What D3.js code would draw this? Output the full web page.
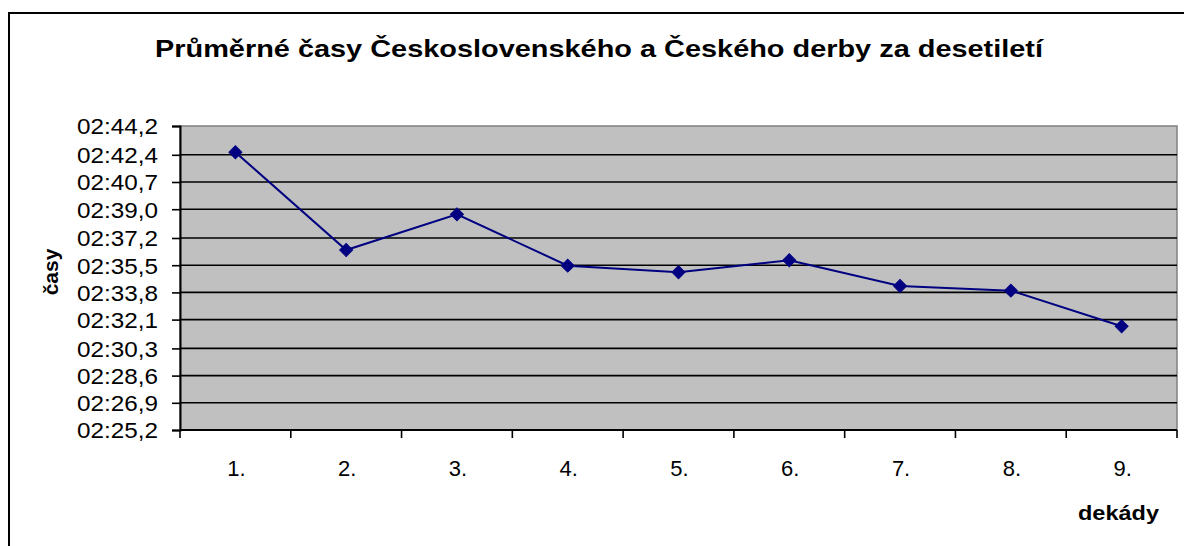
<!DOCTYPE html>
<html>
<head>
<meta charset="utf-8">
<script src="https://cdn.jsdelivr.net/npm/d3@7"></script>
<style>
    body { margin: 0; background: #fff; }
    #chart-area { width: 1184px; height: 546px; overflow: hidden; }
    text { font-family: "Liberation Sans", Arial, sans-serif; fill: #000; }
</style>
</head>
<body>
<div id="chart-area"></div>
<script>

// Data: decades and average times (seconds)
let decades = ["1.", "2.", "3.", "4.", "5.", "6.", "7.", "8.", "9."];
let avgTimes = [162.56, 156.45, 158.68, 155.47, 155.06, 155.81, 154.20, 153.91, 151.68];
let tickLabels = ["02:25,2", "02:26,9", "02:28,6", "02:30,3", "02:32,1", "02:33,8",
    "02:35,5", "02:37,2", "02:39,0", "02:40,7", "02:42,4", "02:44,2"];

let chartTitle = "Průměrné časy Československého a Českého derby za desetiletí";
let yTitle = "časy";
let xTitle = "dekády";

// "02:42,4" -> 162.4
function parseTime(s) {
    let parts = s.split(":");
    return +parts[0] * 60 + parseFloat(parts[1].replace(",", "."));
}

class LineChart {

    constructor(_parentElement) {
        this.parentElement = _parentElement;
        this.displayData = decades.map((d, i) => ({ decade: d, value: avgTimes[i] }));
        this.initVis();
    }

    initVis() {
        let vis = this;

        vis.width = 1184;
        vis.height = 546;
        vis.plot = { left: 180, right: 1177, top: 126, bottom: 430 };

        vis.svg = d3.select("#" + vis.parentElement).append("svg")
            .attr("width", vis.width)
            .attr("height", vis.height);

        // outer chart frame
        vis.svg.append("rect")
            .attr("x", 9).attr("y", 13)
            .attr("width", 1200).attr("height", 600)
            .attr("fill", "#fff")
            .attr("stroke", "#000")
            .attr("stroke-width", 2);

        vis.tickValues = tickLabels.map(parseTime);

        vis.x = d3.scalePoint()
            .domain(decades)
            .range([vis.plot.left, vis.plot.right])
            .padding(0.5);

        vis.y = d3.scaleLinear()
            .domain([d3.min(vis.tickValues), d3.max(vis.tickValues)])
            .range([vis.plot.bottom, vis.plot.top]);

        vis.updateVis();
    }

    updateVis() {
        let vis = this;
        let p = vis.plot;

        // plot background
        vis.svg.append("rect")
            .attr("x", p.left).attr("y", p.top)
            .attr("width", p.right - p.left).attr("height", p.bottom - p.top)
            .attr("fill", "#c0c0c0")
            .attr("stroke", "#808080")
            .attr("stroke-width", 1.5);

        // horizontal gridlines
        vis.svg.append("g")
            .selectAll("line")
            .data(vis.tickValues.slice(1, -1))
            .enter()
            .append("line")
            .attr("x1", p.left).attr("x2", p.right)
            .attr("y1", d => vis.y(d)).attr("y2", d => vis.y(d))
            .attr("stroke", "#000")
            .attr("stroke-width", 1.6);

        // y axis
        let yAxis = d3.axisLeft(vis.y)
            .tickValues(vis.tickValues)
            .tickFormat((d, i) => tickLabels[i])
            .tickSize(8)
            .tickPadding(14);

        let yg = vis.svg.append("g")
            .attr("transform", "translate(" + p.left + ",0)")
            .call(yAxis);
        yg.select(".domain").attr("stroke", "#000").attr("stroke-width", 2);
        yg.selectAll(".tick line").attr("stroke", "#000").attr("stroke-width", 1.6);
        yg.selectAll(".tick text")
            .attr("font-size", 22)
            .attr("font-family", "Liberation Sans, Arial, sans-serif")
            .attr("textLength", 81)
            .attr("lengthAdjust", "spacingAndGlyphs")
            .attr("dy", "0.36em");

        // x axis: ticks sit on the category boundaries
        let step = vis.x.step();
        let boundaries = d3.range(decades.length + 1).map(i => p.left + i * step);

        let xg = vis.svg.append("g");
        xg.append("line")
            .attr("x1", p.left).attr("x2", p.right)
            .attr("y1", p.bottom).attr("y2", p.bottom)
            .attr("stroke", "#000").attr("stroke-width", 2);
        xg.selectAll(".xtick")
            .data(boundaries)
            .enter()
            .append("line")
            .attr("class", "xtick")
            .attr("x1", d => d).attr("x2", d => d)
            .attr("y1", p.bottom).attr("y2", p.bottom + 8)
            .attr("stroke", "#000").attr("stroke-width", 1.6);
        xg.selectAll(".xlabel")
            .data(decades)
            .enter()
            .append("text")
            .attr("class", "xlabel")
            .attr("x", d => vis.x(d) + 1)
            .attr("y", 476)
            .attr("text-anchor", "middle")
            .attr("font-size", 22)
            .text(d => d);

        // line
        let line = d3.line()
            .x(d => vis.x(d.decade))
            .y(d => vis.y(d.value));

        vis.svg.append("path")
            .datum(vis.displayData)
            .attr("d", line)
            .attr("fill", "none")
            .attr("stroke", "#000080")
            .attr("stroke-width", 2);

        // diamond markers
        vis.svg.append("g")
            .selectAll("path")
            .data(vis.displayData)
            .enter()
            .append("path")
            .attr("d", d3.symbol().type(d3.symbolSquare).size(84))
            .attr("transform", d => "translate(" + vis.x(d.decade) + "," + vis.y(d.value) + ") rotate(45)")
            .attr("fill", "#000080")
            .attr("stroke", "#000080")
            .attr("stroke-width", 1);

        // titles
        vis.svg.append("text")
            .attr("x", 155)
            .attr("y", 57)
            .attr("font-size", 24)
            .attr("font-weight", "bold")
            .attr("textLength", 888)
            .attr("lengthAdjust", "spacingAndGlyphs")
            .text(chartTitle);

        vis.svg.append("text")
            .attr("transform", "translate(58,272) rotate(-90)")
            .attr("text-anchor", "middle")
            .attr("font-size", 21)
            .attr("font-weight", "bold")
            .text(yTitle);

        vis.svg.append("text")
            .attr("x", 1078)
            .attr("y", 520)
            .attr("font-size", 21)
            .attr("font-weight", "bold")
            .attr("textLength", 81)
            .attr("lengthAdjust", "spacingAndGlyphs")
            .text(xTitle);
    }
}

let chart = new LineChart("chart-area");

</script>
</body>
</html>
